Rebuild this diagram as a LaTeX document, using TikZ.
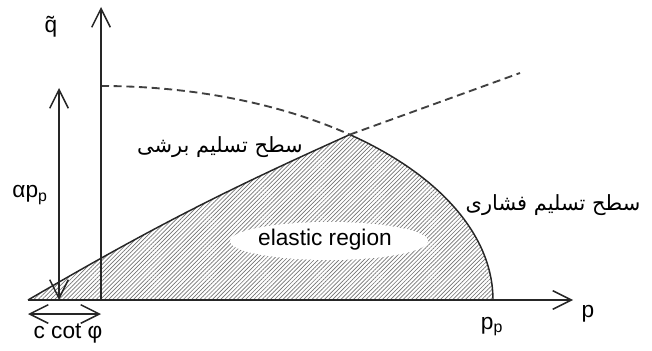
\documentclass[tikz,border=0pt]{standalone}
\usepackage{fontspec}
\setmainfont{Liberation Sans}
\newfontfamily\arabicfont[Script=Arabic]{DejaVu Sans}
\TeXXeTstate=1
\usetikzlibrary{arrows.meta,patterns.meta,shapes.geometric}
\begin{document}
\begin{tikzpicture}[x=0.75pt,y=0.75pt,
  barb/.tip={Straight Barb[length=14pt,width=14pt]},
  axis/.style={line width=1.1pt, draw=black!85, -barb},
  dbl/.style={line width=1.1pt, draw=black!85, barb-barb},
  yieldline/.style={line width=1.1pt, draw=black!85},
  dashedline/.style={line width=1.4pt, draw=black!75, dash pattern=on 6pt off 3.5pt},
  hatch/.style={pattern={Lines[angle=45,distance=2.2pt,line width=0.5pt]}, pattern color=black!55},
  lbl/.style={inner sep=0pt, anchor=base, font=\fontsize{17}{20}\selectfont},
  fa/.style={inner sep=0pt, anchor=base, font=\arabicfont\fontsize{15.7}{19}\selectfont}]
\useasboundingbox (0,0) rectangle (652,350);
\coordinate (O) at (101,50);
\coordinate (A) at (28,50);
\coordinate (P) at (349.8,215.4);
\coordinate (Pp) at (493,50);
\coordinate (C) at (101,264);
\coordinate (D) at (520,277);
\coordinate (Qtop) at (101,343);
\coordinate (Pend) at (573,50);
\coordinate (a1) at (59,50);
\coordinate (a2) at (59,262);
\coordinate (c1) at (28,36);
\coordinate (c2) at (101,36);
% hatched elastic region
\fill[hatch] (A) to[bend left=3] (P) arc[start angle=50.6,end angle=0,x radius=392,y radius=214] -- cycle;
\node (el) [ellipse, fill=white, minimum width=148.5pt, minimum height=28.5pt, inner sep=0pt] at (329,109) {};
\node[lbl] (eltext) at (325,105) {elastic region};
% yield surfaces
\draw[yieldline] (A) to[bend left=3] (P) arc[start angle=50.6,end angle=0,x radius=392,y radius=214];
\draw[dashedline] (C) arc[start angle=90,end angle=50.6,x radius=392,y radius=214];
\draw[dashedline] (P) -- (D);
% axes
\draw[axis] (A) -- (Pend);
\draw[axis] (O) -- (Qtop);
\draw[dbl] (a1) -- (a2);
\draw[dbl] (c1) -- (c2);
% labels
\node[lbl] (qlab) at (51,317) {\~{q}};
\node[lbl] (alab) at (30,152) {αp\textsubscript{p}};
\node[lbl] (clab) at (68,12) {c cot φ};
\node[lbl] (pplab) at (492,21) {p\textsubscript{p}};
\node[lbl] (plab) at (588,33) {p};
\node[fa] (shear) at (220,197) {\beginR سطح تسلیم برشی\endR};
\node[fa] (comp) at (553,140) {\beginR سطح تسلیم فشاری\endR};
\end{tikzpicture}
\end{document}
